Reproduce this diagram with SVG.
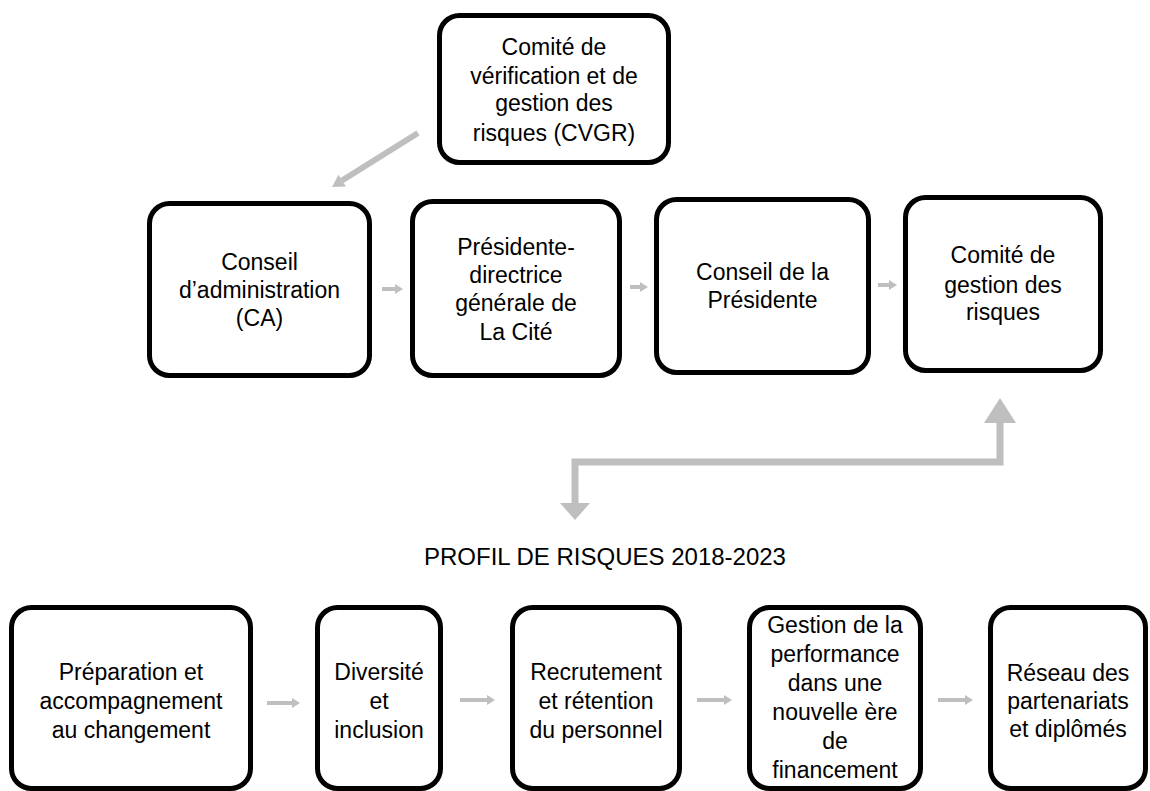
<svg xmlns="http://www.w3.org/2000/svg" width="1150" height="791" viewBox="0 0 1150 791">
<style>
.box{fill:#fff;stroke:#000;stroke-width:5}
.t{font-family:"Liberation Sans",Arial,sans-serif;font-size:23px;fill:#000;text-anchor:middle}
.title{font-family:"Liberation Sans",Arial,sans-serif;font-size:24px;fill:#000;text-anchor:middle}
.sa{stroke:#BFBFBF;stroke-width:4;fill:none}
.big{stroke:#BFBFBF;stroke-width:7;fill:none}
.head{fill:#BFBFBF}
</style>
<defs>
<marker id="sh" markerUnits="userSpaceOnUse" markerWidth="8" markerHeight="10" refX="0" refY="5" orient="auto"><path d="M0,0 L8,5 L0,10 z" fill="#BFBFBF"/></marker>
</defs>
<rect width="1150" height="791" fill="#fff"/>
<g id="connectors">
<path class="big" d="M418,133 L342,180.5" style="stroke-width:6"/>
<polygon class="head" points="332,187 345.9,186.5 338.5,174.7"/>
<path class="big" d="M575,503 L575,462 L1000,462 L1000,423"/>
<polygon class="head" points="984,423 1016,423 1000,398"/>
<polygon class="head" points="560,503 590,503 575,520"/>
<line class="sa" x1="382" y1="289" x2="395" y2="289" marker-end="url(#sh)"/>
<line class="sa" x1="630" y1="287" x2="640" y2="287" marker-end="url(#sh)"/>
<line class="sa" x1="878" y1="285" x2="889" y2="285" marker-end="url(#sh)"/>
<line class="sa" x1="267" y1="703" x2="292" y2="703" marker-end="url(#sh)"/>
<line class="sa" x1="460" y1="700" x2="487" y2="700" marker-end="url(#sh)"/>
<line class="sa" x1="697" y1="700" x2="724" y2="700" marker-end="url(#sh)"/>
<line class="sa" x1="938" y1="700" x2="965" y2="700" marker-end="url(#sh)"/>
</g>
<g id="cvgr">
<rect class="box" x="439.5" y="15.5" width="229" height="147" rx="20"/>
<text class="t" x="554"><tspan x="554" y="55">Comité de</tspan><tspan x="554" y="84">vérification et de</tspan><tspan x="554" y="111">gestion des</tspan><tspan x="554" y="141">risques (CVGR)</tspan></text>
</g>
<g id="ca">
<rect class="box" x="149.5" y="203.5" width="220" height="172" rx="20"/>
<text class="t"><tspan x="259.5" y="270">Conseil</tspan><tspan x="259.5" y="298">d’administration</tspan><tspan x="259.5" y="326">(CA)</tspan></text>
</g>
<g id="pdg">
<rect class="box" x="412.5" y="201.5" width="207" height="174" rx="20"/>
<text class="t"><tspan x="516" y="255">Présidente-</tspan><tspan x="516" y="283">directrice</tspan><tspan x="516" y="311">générale de</tspan><tspan x="516" y="340">La Cité</tspan></text>
</g>
<g id="conseil-presidente">
<rect class="box" x="656.5" y="199.5" width="212" height="173" rx="20"/>
<text class="t"><tspan x="762.5" y="280">Conseil de la</tspan><tspan x="762.5" y="308">Présidente</tspan></text>
</g>
<g id="cgr">
<rect class="box" x="905.5" y="197.5" width="195" height="173" rx="20"/>
<text class="t"><tspan x="1003" y="263">Comité de</tspan><tspan x="1003" y="293">gestion des</tspan><tspan x="1003" y="320">risques</tspan></text>
</g>
<g id="title">
<text class="title" x="605" y="565">PROFIL DE RISQUES 2018-2023</text>
</g>
<g id="preparation">
<rect class="box" x="11.5" y="607.5" width="239" height="181" rx="20"/>
<text class="t"><tspan x="131" y="680">Préparation et</tspan><tspan x="131" y="709">accompagnement</tspan><tspan x="131" y="738">au changement</tspan></text>
</g>
<g id="diversite">
<rect class="box" x="317.5" y="607.5" width="123" height="181" rx="20"/>
<text class="t"><tspan x="379" y="680">Diversité</tspan><tspan x="379" y="709">et</tspan><tspan x="379" y="738">inclusion</tspan></text>
</g>
<g id="recrutement">
<rect class="box" x="512.5" y="607.5" width="167" height="181" rx="20"/>
<text class="t"><tspan x="596" y="680">Recrutement</tspan><tspan x="596" y="709">et rétention</tspan><tspan x="596" y="738">du personnel</tspan></text>
</g>
<g id="performance">
<rect class="box" x="749.5" y="607.5" width="171" height="181" rx="20"/>
<text class="t"><tspan x="835" y="633">Gestion de la</tspan><tspan x="835" y="662">performance</tspan><tspan x="835" y="691">dans une</tspan><tspan x="835" y="720">nouvelle ère</tspan><tspan x="835" y="749">de</tspan><tspan x="835" y="778">financement</tspan></text>
</g>
<g id="reseau">
<rect class="box" x="990.5" y="607.5" width="155" height="181" rx="20"/>
<text class="t"><tspan x="1068" y="681">Réseau des</tspan><tspan x="1068" y="709">partenariats</tspan><tspan x="1068" y="737">et diplômés</tspan></text>
</g>
</svg>
